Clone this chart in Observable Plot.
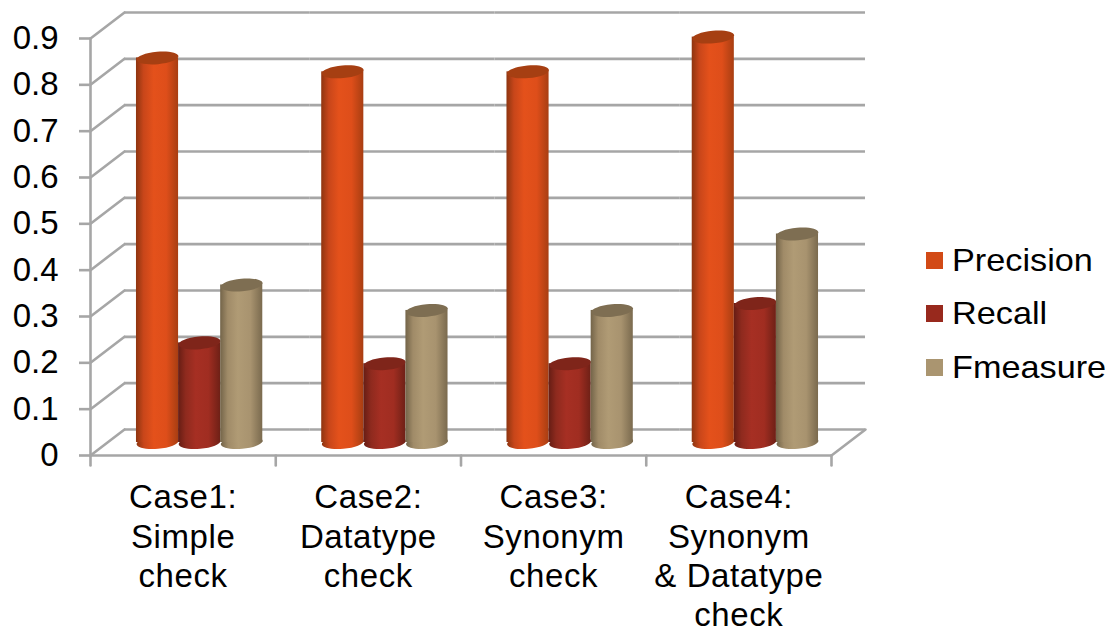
<!DOCTYPE html>
<html>
<head>
<meta charset="utf-8">
<script src="https://cdn.jsdelivr.net/npm/d3@7"></script>
<script src="https://cdn.jsdelivr.net/npm/@observablehq/plot@0.6"></script>
<style>
html,body{margin:0;padding:0;background:#fff;overflow:hidden}
#wrap{position:relative;width:1112px;height:633px}
svg{display:block}
[aria-label="fx-axis tick label"]{letter-spacing:.6px}
#legend{position:absolute;left:926px;top:0;font-family:"Liberation Sans",Arial,sans-serif;font-size:32px;color:#000}
#legend div{position:absolute;white-space:nowrap;display:flex;align-items:center;height:40px;transform:translateY(-20px)}
#legend i{display:inline-block;width:17px;height:17px;margin-right:9px}
#legend span{display:inline-block;transform-origin:left center;transform:scaleX(1.07)}
</style>
</head>
<body>
<div id="wrap"></div>
<script>
const cases = ["Case1:\nSimple\ncheck", "Case2:\nDatatype\ncheck", "Case3:\nSynonym\ncheck", "Case4:\nSynonym\n& Datatype\ncheck"];
const metrics = ["Precision", "Recall", "Fmeasure"];
const precision = [0.83, 0.80, 0.80, 0.875];
const recall = [0.215, 0.17, 0.17, 0.30];
const fmeasure = [0.34, 0.285, 0.285, 0.45];
const yTicks = [0, 0.1, 0.2, 0.3, 0.4, 0.5, 0.6, 0.7, 0.8, 0.9];
const swatch = ["#D24A16", "#98291D", "#AA9570"];
const topColor = ["#A63F12", "#7F251A", "#7E6E52"];
const gradStops = [
  ["#8E3510", "#C8461A", "#E4511B", "#DE4E1A", "#A83E12"],
  ["#661D14", "#8E2A1E", "#A62F23", "#A02D21", "#6E2016"],
  ["#736449", "#A08B68", "#B09B75", "#A8936F", "#7A6A4E"]
];

const series = [precision, recall, fmeasure];
const table = metrics.flatMap((metric, j) => cases.map((c, i) => ({kase: c, metric, value: series[j][i], j})));

const gridColor = "#A6A6A6";
const lineW = 2.6, depthX = 34, depthY = 26, midX = 16.5, midY = 13;
const depthLen = Math.hypot(depthX, depthY), depthAngle = Math.atan2(depthX, depthY) * 180 / Math.PI;
const plotH = 417;
const fontFamily = '"Liberation Sans", Arial, sans-serif';
const stick = {draw(ctx, l) { ctx.moveTo(0, 0); ctx.lineTo(0, -l); }};

function ellipseSymbol(rx, ry, deg) {
  const a = deg * Math.PI / 180, k = 0.5523;
  const p = (x, y) => [x * Math.cos(a) - y * Math.sin(a), x * Math.sin(a) + y * Math.cos(a)];
  return {draw(ctx) {
    ctx.moveTo(...p(rx, 0));
    ctx.bezierCurveTo(...p(rx, k * ry), ...p(k * rx, ry), ...p(0, ry));
    ctx.bezierCurveTo(...p(-k * rx, ry), ...p(-rx, k * ry), ...p(-rx, 0));
    ctx.bezierCurveTo(...p(-rx, -k * ry), ...p(-k * rx, -ry), ...p(0, -ry));
    ctx.bezierCurveTo(...p(k * rx, -ry), ...p(rx, -k * ry), ...p(rx, 0));
    ctx.closePath();
  }};
}
const cap = ellipseSymbol(21, 6.3, -5);

function defsMark() {
  const defs = d3.create("svg:defs");
  gradStops.forEach((stops, j) => {
    const g = defs.append("linearGradient").attr("id", "cyl" + j).attr("x1", 0).attr("x2", 1).attr("y1", 0).attr("y2", 0);
    [0, 0.18, 0.42, 0.72, 1].forEach((o, k) => g.append("stop").attr("offset", o).attr("stop-color", stops[k]));
  });
  return defs.node();
}

const cylinders = metrics.flatMap((metric, j) => {
  const rows = table.filter(d => d.j === j);
  const common = {x: "metric", fx: "kase", dx: midX, dy: -midY};
  return [
    Plot.dot(rows, {...common, y: () => 0, symbol: cap, fill: `url(#cyl${j})`}),
    Plot.barY(rows, {...common, y1: () => 0, y2: "value", fill: `url(#cyl${j})`}),
    Plot.dot(rows, {...common, y: "value", symbol: cap, fill: topColor[j]})
  ];
});

const chart = Plot.plot({
  width: 1112,
  height: 633,
  marginLeft: 90,
  marginRight: 281,
  marginTop: 38,
  marginBottom: 178,
  style: {background: "#fff", fontFamily},
  fx: {domain: cases, padding: 0, round: false, label: null},
  x: {domain: metrics, paddingInner: 0, paddingOuter: 0.7, round: false, axis: null},
  y: {domain: [0, 0.9], label: null},
  marks: [
    defsMark,
    Plot.ruleY(yTicks, {dx: depthX, dy: -depthY, stroke: gridColor, strokeWidth: lineW}),
    Plot.vector(yTicks, {y: d => d, fx: () => cases[0], frameAnchor: "left", length: depthLen, rotate: depthAngle, anchor: "start", shape: stick, stroke: gridColor, strokeWidth: lineW}),
    Plot.vector([0], {y: d => d, fx: () => cases[3], frameAnchor: "right", length: depthLen, rotate: depthAngle, anchor: "start", shape: stick, stroke: gridColor, strokeWidth: lineW}),
    Plot.ruleY([0], {stroke: gridColor, strokeWidth: lineW}),
    Plot.vector([0], {y: d => d, fx: () => cases[0], frameAnchor: "left", length: plotH, rotate: 0, anchor: "start", shape: stick, stroke: gridColor, strokeWidth: lineW}),
    Plot.vector(cases, {fx: d => d, frameAnchor: "bottom-left", length: 10, rotate: 180, anchor: "start", shape: stick, stroke: gridColor, strokeWidth: lineW}),
    Plot.vector([cases[3]], {fx: d => d, frameAnchor: "bottom-right", length: 10, rotate: 180, anchor: "start", shape: stick, stroke: gridColor, strokeWidth: lineW}),
    Plot.axisY({ticks: yTicks, tickFormat: d => String(d), tickSize: 11, tickPadding: 21, stroke: gridColor, strokeWidth: lineW, fontSize: 33, fill: "#000", label: null}),
    Plot.axisFx({anchor: "bottom", tickSize: 0, tickPadding: 25, fontSize: 33, fill: "#000", lineHeight: 1.19, label: null}),
    ...cylinders
  ]
});

const wrap = document.getElementById("wrap");
wrap.appendChild(chart);
const legend = document.createElement("div");
legend.id = "legend";
const legendY = [260, 313, 367];
metrics.forEach((m, j) => {
  const row = document.createElement("div");
  row.style.top = legendY[j] + "px";
  row.innerHTML = `<i style="background:${swatch[j]}"></i><span>${m}</span>`;
  legend.appendChild(row);
});
wrap.appendChild(legend);
</script>
</body>
</html>
